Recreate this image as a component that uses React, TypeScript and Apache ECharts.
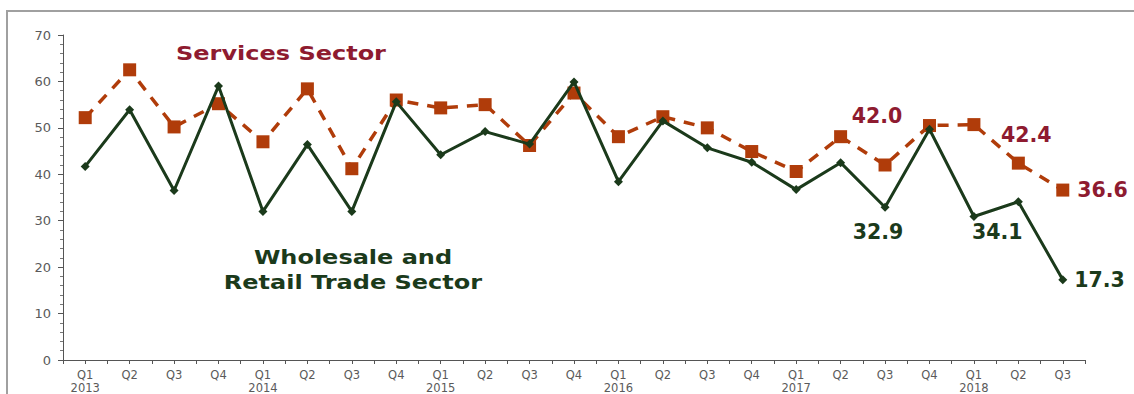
import React, { useEffect, useRef } from "react";
import * as echarts from "echarts";

const quarters = [
  "Q1\n2013", "Q2", "Q3", "Q4",
  "Q1\n2014", "Q2", "Q3", "Q4",
  "Q1\n2015", "Q2", "Q3", "Q4",
  "Q1\n2016", "Q2", "Q3", "Q4",
  "Q1\n2017", "Q2", "Q3", "Q4",
  "Q1\n2018", "Q2", "Q3",
];

const servicesValues = [
  52.2, 62.5, 50.2, 55.2,
  47.0, 58.4, 41.2, 56.0,
  54.3, 55.0, 46.2, 57.5,
  48.1, 52.4, 50.0, 44.9,
  40.6, 48.1, 42.0, 50.5,
  50.7, 42.4, 36.6,
];

const wholesaleValues = [
  41.7, 53.9, 36.5, 59.0,
  32.0, 46.4, 32.0, 55.6,
  44.2, 49.2, 46.5, 59.9,
  38.4, 51.5, 45.7, 42.6,
  36.7, 42.5, 32.9, 49.7,
  30.9, 34.1, 17.3,
];

const SERV_LINE = "#b03c0a";
const SERV_TEXT = "#8e1b30";
const WHOLE = "#1b3a1b";

export default function App() {
  const ref = useRef<HTMLDivElement>(null);

  useEffect(() => {
    document.body.style.margin = "0";
    if (!ref.current) return;
    const chart = echarts.init(ref.current, undefined, { renderer: "svg" });

    const labelFont = {
      fontFamily: "DejaVu Sans",
      fontWeight: "bold" as const,
      fontSize: 20.5,
    };
    const fmt = (p: any) => Number(p.value).toFixed(1);

    const servData = servicesValues.map((v, i) => {
      if (i === 18)
        return { value: v, label: { show: true, position: "top", offset: [-8, -27], color: SERV_TEXT, ...labelFont, formatter: fmt } };
      if (i === 21)
        return { value: v, label: { show: true, position: "top", offset: [8, -6], color: SERV_TEXT, ...labelFont, formatter: fmt } };
      if (i === 22)
        return { value: v, label: { show: true, position: "right", offset: [3, 0], color: SERV_TEXT, ...labelFont, formatter: fmt } };
      return v;
    });

    const wholeData = wholesaleValues.map((v, i) => {
      if (i === 18)
        return { value: v, label: { show: true, position: "bottom", offset: [-7, 5], color: WHOLE, ...labelFont, formatter: fmt } };
      if (i === 21)
        return { value: v, label: { show: true, position: "bottom", offset: [-21, 10], color: WHOLE, ...labelFont, formatter: fmt } };
      if (i === 22)
        return { value: v, label: { show: true, position: "right", offset: [2, 0], color: WHOLE, ...labelFont, formatter: fmt } };
      return v;
    });

    const annot = (x: number, y: number, text: string, fill: string) => ({
      type: "text",
      x,
      y,
      scaleX: 1.2,
      style: {
        text,
        fill,
        font: "bold 20px 'DejaVu Sans'",
        textAlign: "center",
        textVerticalAlign: "middle",
      },
    });

    chart.setOption({
      animation: false,
      backgroundColor: "#ffffff",
      grid: { left: 63, right: 49, top: 35, bottom: 33, containLabel: false },
      xAxis: [
        {
          type: "category",
          data: quarters,
          boundaryGap: true,
          axisLine: { show: true, lineStyle: { color: "#555", width: 1 } },
          axisTick: { show: true, interval: 0, length: 4, lineStyle: { color: "#555" } },
          axisLabel: {
            interval: 0,
            color: "#5a5a5a",
            fontSize: 11.5,
            fontFamily: "DejaVu Sans",
            lineHeight: 13,
            margin: 8,
          },
        },
        {
          type: "category",
          data: quarters,
          boundaryGap: true,
          position: "bottom",
          axisLine: { show: false },
          axisTick: { show: true, interval: 0, alignWithLabel: true, length: 4, lineStyle: { color: "#555" } },
          axisLabel: { show: false },
        },
      ],
      yAxis: {
        type: "value",
        min: 0,
        max: 70,
        interval: 10,
        axisLine: { show: true, lineStyle: { color: "#555", width: 1 } },
        axisTick: { show: true, length: 5, lineStyle: { color: "#555" } },
        minorTick: { show: true, splitNumber: 5, length: 3, lineStyle: { color: "#777" } },
        splitLine: { show: false },
        axisLabel: { color: "#5a5a5a", fontSize: 13, fontFamily: "DejaVu Sans", margin: 12 },
      },
      graphic: [
        {
          type: "rect",
          shape: { x: 7, y: 11, width: 1300, height: 600 },
          style: { fill: "none", stroke: "#a0a0a0", lineWidth: 2 },
          silent: true,
        },
        annot(281, 53, "Services Sector", SERV_TEXT),
        annot(353, 257, "Wholesale and", WHOLE),
        annot(353, 282, "Retail Trade Sector", WHOLE),
      ],
      series: [
        {
          name: "Services Sector",
          type: "line",
          xAxisIndex: 0,
          data: servData,
          symbol: "rect",
          symbolSize: 13,
          itemStyle: { color: SERV_LINE },
          lineStyle: { color: SERV_LINE, width: 3.5, type: [11, 9] },
          z: 2,
        },
        {
          name: "Wholesale and Retail Trade Sector",
          type: "line",
          xAxisIndex: 0,
          data: wholeData,
          symbol: "diamond",
          symbolSize: 9,
          itemStyle: { color: WHOLE },
          lineStyle: { color: WHOLE, width: 3 },
          z: 3,
        },
      ],
    });

    return () => chart.dispose();
  }, []);

  return <div ref={ref} style={{ width: 1134, height: 394 }} />;
}
